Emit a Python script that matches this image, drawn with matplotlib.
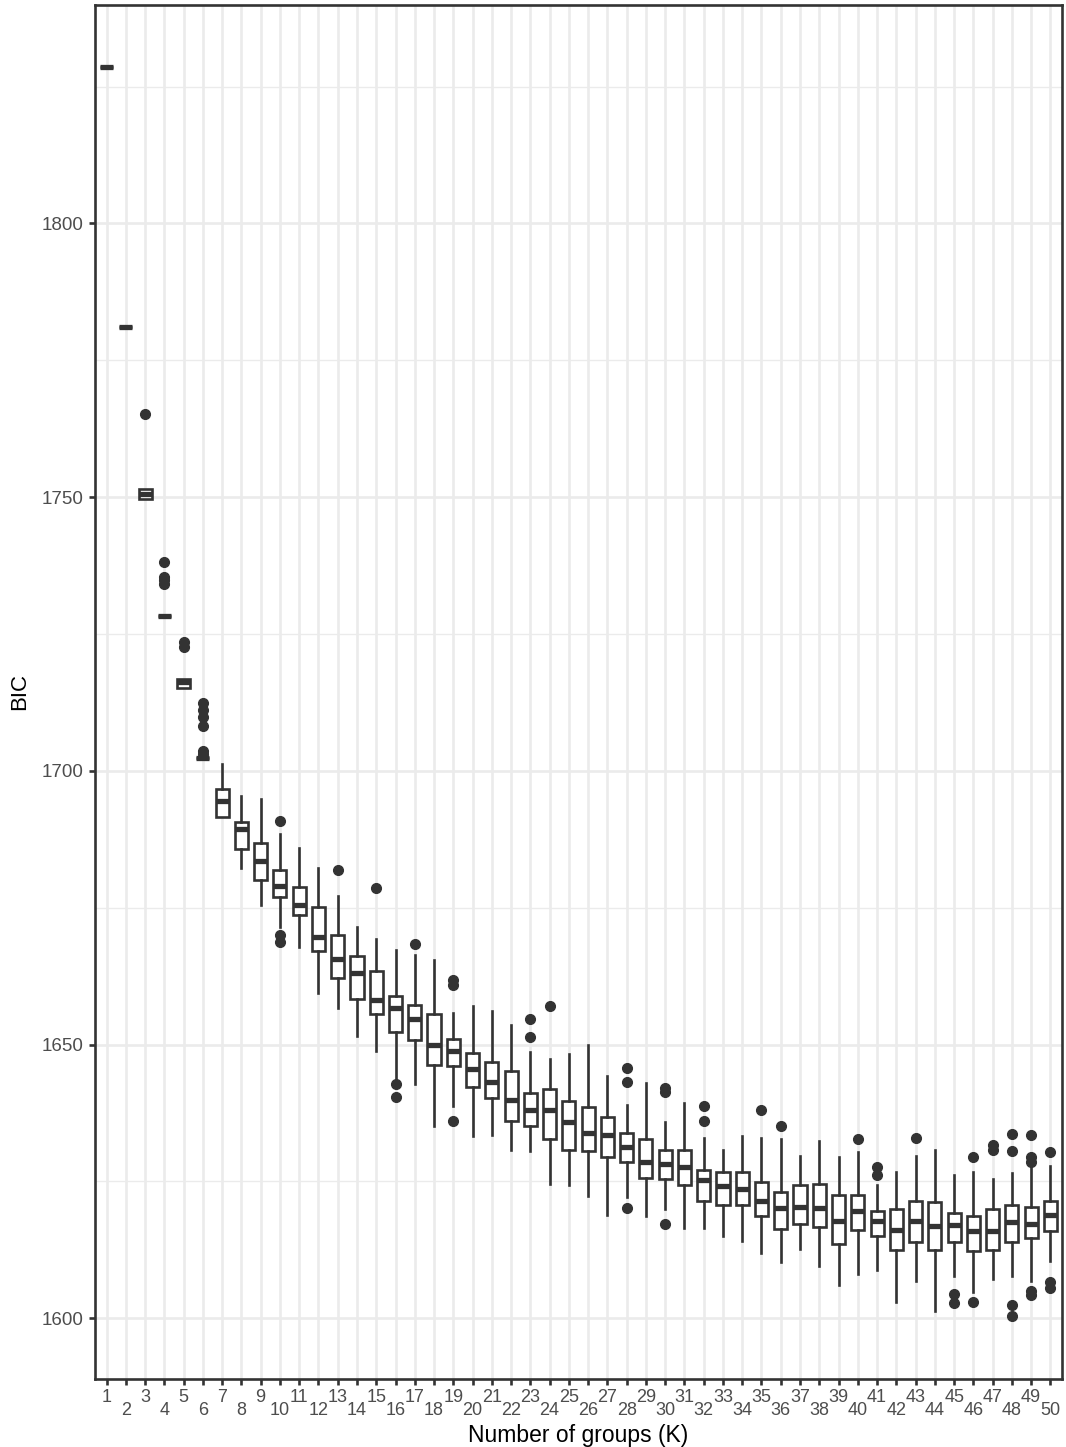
import matplotlib
matplotlib.use('Agg')
import matplotlib.pyplot as plt

plt.rcParams['font.family'] = ['Liberation Sans', 'DejaVu Sans']

# BIC distribution per number of groups
k = list(range(1, 51))
whislo = [1828.5, 1781.0, 1749.6, 1728.3, 1715.2, 1702.4, 1691.6, 1682.3, 1675.4, 1671.5,
          1667.9, 1659.5, 1656.6, 1651.5, 1648.9, 1643.8, 1642.7, 1635.2, 1638.7, 1633.2,
          1633.4, 1630.7, 1630.5, 1624.6, 1624.3, 1622.4, 1618.8, 1622.1, 1618.6, 1619.9,
          1616.4, 1616.4, 1615.0, 1614.2, 1611.9, 1610.2, 1612.6, 1609.5, 1606.0, 1608.0,
          1608.9, 1602.9, 1606.8, 1601.3, 1607.7, 1604.8, 1607.1, 1607.8, 1606.8, 1610.4]
q1 = [1828.5, 1781.0, 1749.6, 1728.3, 1715.2, 1702.4, 1691.6, 1685.8, 1680.1, 1677.0,
      1673.7, 1667.0, 1662.2, 1658.4, 1655.5, 1652.2, 1650.9, 1646.2, 1646.0, 1642.2,
      1640.3, 1636.0, 1635.2, 1632.8, 1630.7, 1630.5, 1629.4, 1628.5, 1625.7, 1625.5,
      1624.3, 1621.5, 1620.6, 1620.6, 1618.6, 1616.3, 1617.2, 1616.6, 1613.5, 1616.2,
      1615.0, 1612.4, 1613.9, 1612.4, 1613.9, 1612.2, 1612.4, 1614.0, 1614.6, 1616.0]
med = [1828.5, 1781.0, 1750.5, 1728.3, 1716.2, 1702.4, 1694.4, 1689.3, 1683.6, 1679.0,
       1675.4, 1669.7, 1665.7, 1663.1, 1658.2, 1656.6, 1654.6, 1650.0, 1648.9, 1645.6,
       1643.1, 1639.8, 1638.1, 1638.1, 1635.8, 1633.8, 1633.4, 1631.2, 1628.5, 1628.1,
       1627.7, 1625.2, 1624.1, 1623.7, 1621.4, 1620.1, 1620.4, 1620.1, 1617.7, 1619.5,
       1617.7, 1616.2, 1617.7, 1616.9, 1617.0, 1616.0, 1616.0, 1617.5, 1617.2, 1618.8]
q3 = [1828.5, 1781.0, 1751.5, 1728.3, 1716.8, 1702.4, 1696.7, 1690.7, 1686.9, 1681.8,
      1678.8, 1675.2, 1670.1, 1666.2, 1663.5, 1658.8, 1657.3, 1655.5, 1651.1, 1648.5,
      1646.9, 1645.1, 1641.2, 1641.8, 1639.6, 1638.5, 1636.7, 1633.8, 1632.7, 1630.7,
      1630.7, 1627.0, 1626.8, 1626.8, 1624.8, 1623.0, 1624.3, 1624.6, 1622.6, 1622.6,
      1619.5, 1619.9, 1621.4, 1621.2, 1619.3, 1618.6, 1619.9, 1620.6, 1620.3, 1621.4]
whishi = [1828.5, 1781.0, 1751.5, 1728.3, 1716.8, 1702.4, 1701.3, 1695.4, 1694.9, 1688.5,
          1685.9, 1682.3, 1677.2, 1671.4, 1669.3, 1667.3, 1666.4, 1665.5, 1655.8, 1657.1,
          1656.2, 1653.6, 1648.7, 1647.3, 1648.2, 1650.0, 1644.2, 1638.9, 1642.9, 1635.8,
          1639.4, 1633.0, 1630.7, 1633.2, 1633.0, 1632.8, 1629.7, 1632.3, 1629.4, 1630.3,
          1624.3, 1626.8, 1629.7, 1630.7, 1626.1, 1626.8, 1625.5, 1626.5, 1627.5, 1627.8]
outliers = [[], [], [1765.1], [1738.1, 1735.4, 1734.9, 1734.2], [1723.5, 1722.6],
            [1712.4, 1711.2, 1709.8, 1708.2, 1703.6, 1703.1], [], [], [], [1690.9, 1670.1, 1668.8],
            [], [], [1681.8], [], [1678.6],
            [1642.7, 1640.5], [1668.4], [], [1661.7, 1660.8, 1636.1], [],
            [], [], [1654.7, 1651.3], [1657.1], [],
            [], [], [1645.8, 1643.2, 1620.1], [], [1642.0, 1641.4, 1617.2],
            [], [1638.7, 1636.0], [], [], [1638.0],
            [1635.1], [], [], [], [1632.7],
            [1627.6, 1626.1], [], [1633.0], [], [1604.4, 1602.7],
            [1629.4, 1602.9], [1631.6, 1630.8], [1633.6, 1630.5, 1602.4, 1600.5],
            [1633.4, 1629.4, 1628.6, 1604.9, 1604.2], [1630.3, 1606.6, 1605.5]]

stats = []
for i in range(len(k)):
    stats.append(dict(med=med[i], q1=q1[i], q3=q3[i], whislo=whislo[i],
                      whishi=whishi[i], fliers=outliers[i]))

dark = '#333333'
fig = plt.figure(figsize=(10.66, 14.47), dpi=100)
ax = fig.add_axes([95 / 1066, 1 - 1379 / 1447, (1062 - 95) / 1066, (1379 - 5) / 1447])

ax.bxp(stats, positions=k, widths=0.68, showcaps=False, patch_artist=True,
       boxprops=dict(facecolor='white', edgecolor=dark, linewidth=1.9),
       whiskerprops=dict(color=dark, linewidth=1.9),
       medianprops=dict(color=dark, linewidth=3.8, solid_capstyle='butt'),
       flierprops=dict(marker='o', markerfacecolor=dark, markeredgecolor=dark, markersize=7),
       manage_ticks=False, zorder=3)

ax.set_xlim(0.4, 50.6)
ax.set_ylim(1588.9, 1839.9)

odd = [x for x in k if x % 2 == 1]
even = [x for x in k if x % 2 == 0]
ax.set_xticks(odd, [str(x) for x in odd])
ax.set_xticks(even, [str(x) for x in even], minor=True)
ax.set_yticks([1600, 1650, 1700, 1750, 1800])
ax.set_yticks([1625, 1675, 1725, 1775, 1825], minor=True)

ax.set_axisbelow(True)
ax.grid(which='major', color='#EBEBEB', linewidth=1.9)
ax.xaxis.grid(which='minor', color='#EBEBEB', linewidth=1.9)
ax.yaxis.grid(which='minor', color='#EBEBEB', linewidth=1.0)

ax.tick_params(axis='x', which='both', length=4.3, width=1.9, color=dark,
               labelcolor='#4D4D4D', labelsize=13)
ax.tick_params(axis='x', which='major', pad=3)
ax.tick_params(axis='x', which='minor', pad=12)
ax.tick_params(axis='y', which='major', length=4.3, width=1.9, color=dark,
               labelcolor='#4D4D4D', labelsize=13.5, pad=4)
ax.tick_params(axis='y', which='minor', length=0)

for s in ax.spines.values():
    s.set_color(dark)
    s.set_linewidth(1.9)

ax.set_xlabel('Number of groups (K)', fontsize=16.5, labelpad=4)
ax.set_ylabel('BIC', fontsize=16, labelpad=8)

fig.savefig('out.png', dpi=100)
